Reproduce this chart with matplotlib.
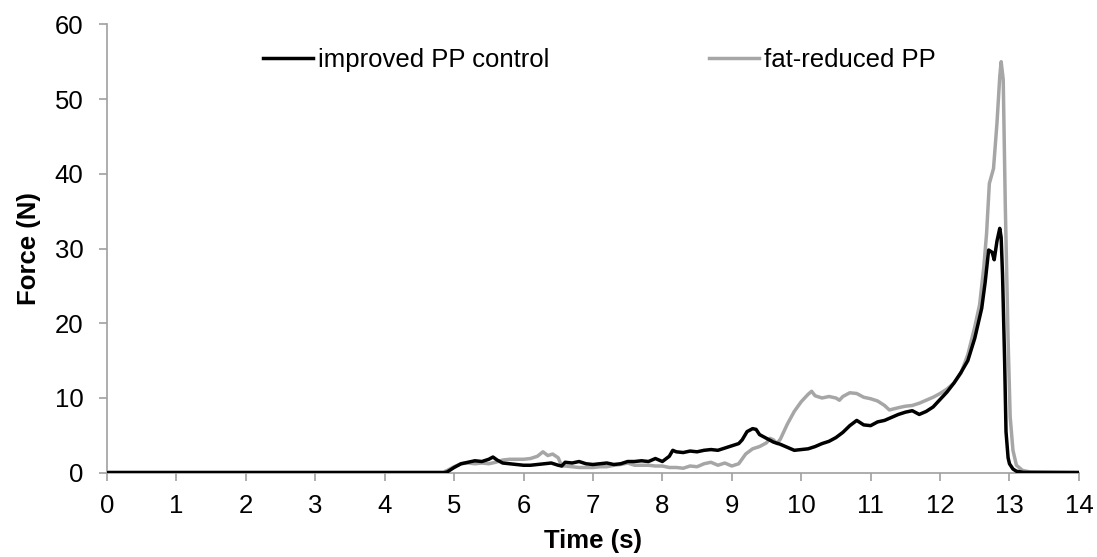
import matplotlib
matplotlib.use("Agg")
import matplotlib.pyplot as plt

plt.rcParams["font.family"] = ["Liberation Sans", "DejaVu Sans"]

control_t = [0, 4.85, 4.9, 5.0, 5.1, 5.2, 5.3, 5.4, 5.5, 5.56, 5.62, 5.7, 5.8, 5.9,
             6.0, 6.1, 6.2, 6.3, 6.4, 6.5, 6.55, 6.6, 6.7, 6.8, 6.9, 7.0, 7.1, 7.2,
             7.3, 7.4, 7.5, 7.6, 7.7, 7.8, 7.9, 8.0, 8.1, 8.15, 8.2, 8.3, 8.4, 8.5,
             8.6, 8.7, 8.8, 8.9, 9.0, 9.1, 9.15, 9.22, 9.3, 9.35, 9.4, 9.5, 9.6,
             9.7, 9.8, 9.9, 10.0, 10.1, 10.2, 10.3, 10.4, 10.5, 10.6, 10.7, 10.8,
             10.9, 11.0, 11.1, 11.2, 11.3, 11.4, 11.5, 11.6, 11.7, 11.8, 11.9,
             12.0, 12.1, 12.2, 12.3, 12.4, 12.5, 12.6, 12.65, 12.7, 12.75, 12.78,
             12.82, 12.86, 12.88, 12.9, 12.93, 12.95, 12.98, 13.0, 13.05, 13.1,
             13.2, 14.0]
control_f = [0, 0, 0.1, 0.7, 1.2, 1.4, 1.6, 1.5, 1.8, 2.1, 1.7, 1.3, 1.2, 1.1,
             1.0, 1.0, 1.1, 1.2, 1.3, 1.0, 0.9, 1.4, 1.3, 1.5, 1.2, 1.1, 1.2, 1.3,
             1.1, 1.2, 1.5, 1.5, 1.6, 1.5, 1.9, 1.5, 2.2, 3.0, 2.8, 2.7, 2.9, 2.8,
             3.0, 3.1, 3.0, 3.3, 3.6, 3.9, 4.4, 5.5, 5.9, 5.8, 5.1, 4.6, 4.1,
             3.8, 3.4, 3.0, 3.1, 3.2, 3.5, 3.9, 4.2, 4.7, 5.4, 6.3, 7.0,
             6.4, 6.3, 6.8, 7.0, 7.4, 7.8, 8.1, 8.3, 7.8, 8.2, 8.8,
             9.8, 10.8, 12.0, 13.4, 15.0, 18.0, 22.0, 25.5, 29.8, 29.5, 28.5,
             31.0, 32.7, 31.5, 26.5, 15.0, 5.5, 2.0, 1.2, 0.5, 0.2,
             0.05, 0.0]

reduced_t = [0, 4.85, 4.9, 5.0, 5.1, 5.2, 5.3, 5.4, 5.5, 5.6, 5.7, 5.8, 5.9, 6.0,
             6.1, 6.2, 6.28, 6.35, 6.42, 6.5, 6.55, 6.6, 6.7, 6.8, 6.9, 7.0, 7.1,
             7.2, 7.3, 7.4, 7.5, 7.6, 7.7, 7.8, 7.9, 8.0, 8.1, 8.2, 8.3, 8.4, 8.5,
             8.6, 8.7, 8.8, 8.9, 9.0, 9.1, 9.2, 9.3, 9.4, 9.5, 9.55, 9.6, 9.65,
             9.7, 9.8, 9.9, 10.0, 10.1, 10.15, 10.2, 10.3, 10.4, 10.5, 10.55,
             10.6, 10.7, 10.8, 10.9, 11.0, 11.1, 11.2, 11.27, 11.4, 11.5, 11.6,
             11.7, 11.8, 11.9, 12.0, 12.1, 12.2, 12.3, 12.4, 12.5, 12.57, 12.63,
             12.67, 12.71, 12.77, 12.82, 12.86, 12.88, 12.91, 12.94, 12.98, 13.01,
             13.05, 13.1, 13.19, 13.3, 14.0]
reduced_f = [0.1, 0.1, 0.3, 0.8, 1.2, 1.3, 1.2, 1.3, 1.2, 1.4, 1.7, 1.8, 1.8, 1.8,
             1.9, 2.2, 2.8, 2.3, 2.5, 2.0, 0.9, 0.9, 0.8, 0.7, 0.7, 0.7, 0.8,
             0.8, 1.0, 1.1, 1.3, 1.0, 1.0, 1.0, 0.9, 0.9, 0.7, 0.7, 0.6, 0.9, 0.8,
             1.2, 1.4, 1.0, 1.3, 0.9, 1.2, 2.5, 3.2, 3.5, 4.0, 4.6, 4.4, 3.9,
             4.5, 6.5, 8.2, 9.5, 10.5, 10.9, 10.3, 10.0, 10.2, 10.0, 9.7,
             10.2, 10.7, 10.6, 10.1, 9.9, 9.6, 9.0, 8.4, 8.7, 8.9, 9.0,
             9.3, 9.7, 10.1, 10.6, 11.2, 12.0, 13.3, 15.8, 19.5, 22.5, 27.5,
             32.0, 38.7, 40.7, 46.8, 53.0, 55.0, 52.6, 35.6, 17.8, 7.5,
             3.0, 1.0, 0.3, 0.1, 0.1]

x_ticks = list(range(0, 15))
y_ticks = list(range(0, 61, 10))

fig = plt.figure(figsize=(10.97, 5.57), dpi=100)
ax = fig.add_axes([0.0975, 0.1513, 0.886, 0.805])

ax.plot(control_t, control_f, color="black", lw=2.5, label="improved PP control", zorder=3)
ax.plot(reduced_t, reduced_f, color="#a6a6a6", lw=2.5, label="fat-reduced PP", zorder=2)
ax.set_xlim(0, 14)
ax.set_ylim(0, 60)
ax.set_xticks(x_ticks)
ax.set_yticks(y_ticks)

for side in ["top", "right"]:
    ax.spines[side].set_visible(False)
for side in ["left", "bottom"]:
    ax.spines[side].set_color("#a0a0a0")
    ax.spines[side].set_linewidth(1.2)

ax.tick_params(axis="both", colors="#a0a0a0", labelcolor="black", labelsize=18.5,
               length=6, width=1.2, direction="out")
ax.tick_params(axis="y", pad=11)
ax.tick_params(axis="x", pad=9)

ax.set_xlabel("Time (s)", fontsize=18.5, fontweight="bold", labelpad=8)
ax.set_ylabel("Force (N)", fontsize=18.5, fontweight="bold", labelpad=10)

leg = ax.legend(loc="center left", bbox_to_anchor=(2.25, 55.2),
                bbox_transform=ax.transData, ncol=2, frameon=False,
                fontsize=18.5, handlelength=1.95, handletextpad=0.2,
                columnspacing=6.2, borderpad=0, borderaxespad=0)

plt.savefig("out.png", dpi=100)
